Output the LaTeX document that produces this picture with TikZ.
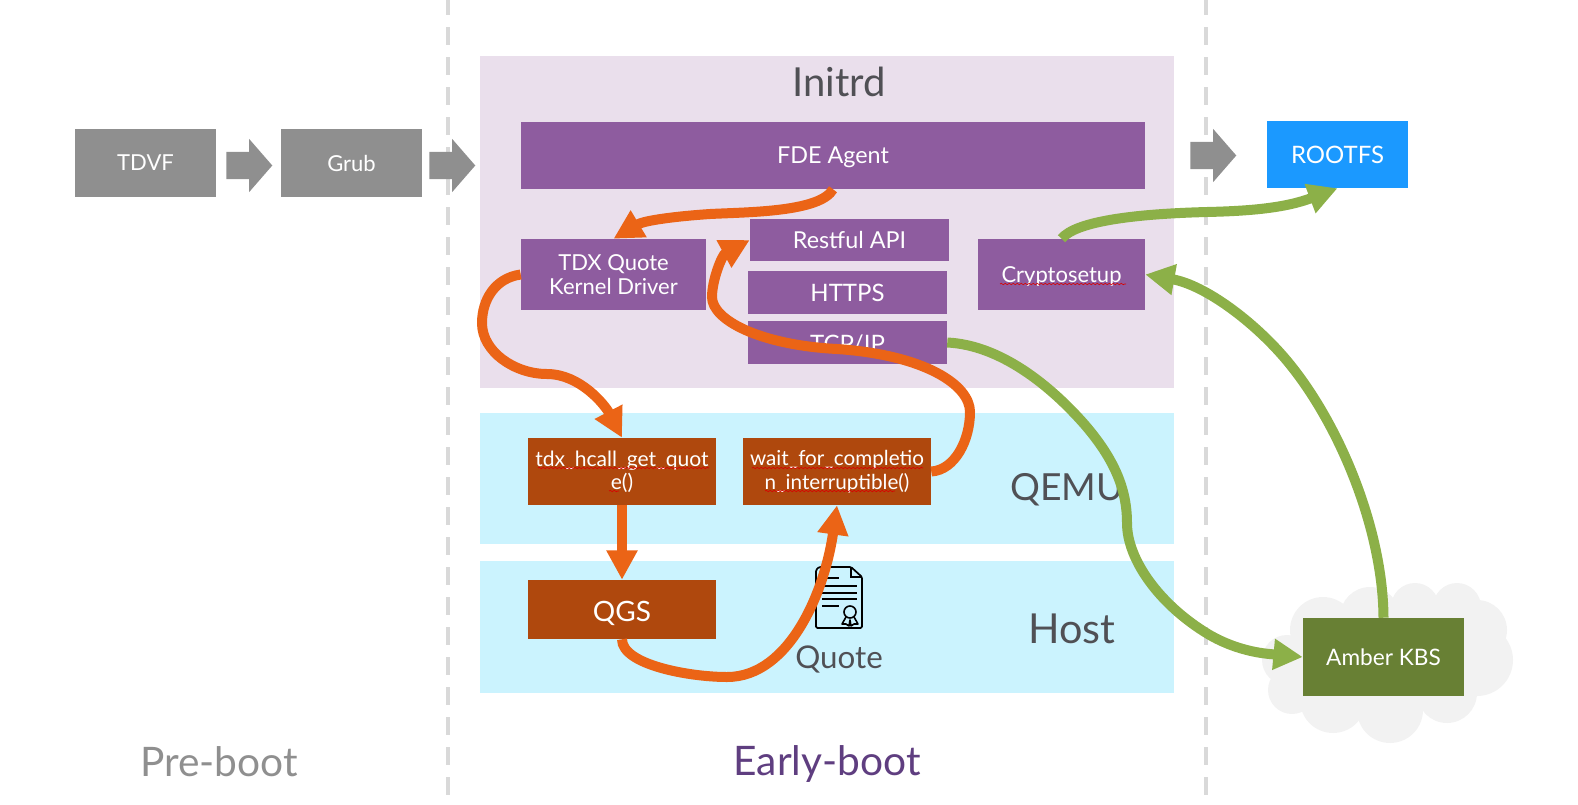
\documentclass[tikz,border=0pt]{standalone}
\usepackage{fontspec}
\setmainfont{Lato}
\usetikzlibrary{arrows.meta,positioning,shapes.arrows,decorations.pathmorphing}
\definecolor{fPurple}{RGB}{234,223,236}
\definecolor{dPurple}{RGB}{142,92,159}
\definecolor{fCyan}{RGB}{203,243,254}
\definecolor{dRust}{RGB}{175,72,13}
\definecolor{dOrange}{RGB}{235,100,22}
\definecolor{dGreen}{RGB}{104,128,52}
\definecolor{lGreen}{RGB}{140,176,72}
\definecolor{dGray}{RGB}{143,143,143}
\definecolor{lGray}{RGB}{217,217,217}
\definecolor{dText}{RGB}{80,80,85}
\definecolor{dEarly}{RGB}{95,62,128}
\definecolor{dSky}{RGB}{27,153,255}
\begin{document}
\begin{tikzpicture}[x=0.75pt,y=-0.75pt,
  zone/.style={anchor=north west,inner sep=0pt},
  boxx/.style={anchor=center,inner sep=0pt,align=center,text=white,font=\fontsize{16.5}{18.5}\selectfont},
  oar/.style={-{Triangle[length=22pt,width=22pt]},line width=7.5pt,dOrange},
  gar/.style={-{Triangle[length=22pt,width=22pt]},line width=7.5pt,lGreen},
  blk/.style={single arrow,anchor=tail,fill=dGray,minimum width=39.75pt,minimum height=34.5pt,single arrow head extend=9.75pt,inner xsep=0pt,inner ysep=10.1pt,single arrow tip angle=98},
  spell/.style={red!85!black,line width=0.5pt,decorate,decoration={snake,amplitude=0.5pt,segment length=3pt}},
  lbl/.style={text=dText,inner sep=0pt}]
\useasboundingbox (0,0) rectangle (1578,804);
% columns
\foreach \x/\n in {448/a,1206/b} {
  \coordinate (t\n) at (\x,0);
  \coordinate (u\n) at (\x,804);
  \draw[lGray,line width=3pt,dash pattern=on 13.2pt off 9.3pt,dash phase=2.25pt] (t\n) -- (u\n);
}
% zones
\node[zone,fill=fPurple,minimum width=520.5pt,minimum height=249pt] (initrd) at (480,56) {};
\node[zone,fill=fCyan,minimum width=520.5pt,minimum height=98.25pt] (qemu) at (480,413) {};
\node[zone,fill=fCyan,minimum width=520.5pt,minimum height=99pt] (host) at (480,561) {};
% cloud
\foreach \x/\y/\r in {1323/630/33,1370/617/30,1415/607/24,1457/607/24,1477/630/30,1477/660/36,1447/693/30,1390/710/33,1333/700/33,1292/690/24,1287/660/25}
  \fill[black!5] (\x,\y) circle (\r);
\fill[black!5] (1300,610) rectangle (1470,710);
% boxes
\node[boxx,fill=dGray,minimum width=105.75pt,minimum height=51pt] (tdvf) at (145.5,163) {TDVF};
\node[boxx,fill=dGray,minimum width=105.75pt,minimum height=51pt] (grub) at (351.5,163) {Grub};
\node[blk] (s1) at (226,165.5) {};
\node[blk] (s2) at (429,165.5) {};
\node[blk] (s3) at (1190,155.5) {};
\node[boxx,fill=dSky,minimum width=105.75pt,minimum height=50.25pt,font=\fontsize{18}{20}\selectfont] (rootfs) at (1337.5,154.5) {ROOTFS};
\node[boxx,fill=dPurple,minimum width=468pt,minimum height=50.25pt,font=\fontsize{17.5}{20}\selectfont,text depth=0pt] (fde) at (833,155.5) {FDE Agent};
\node[boxx,fill=dPurple,minimum width=138.75pt,minimum height=53.25pt] (driver) at (613.5,274.5) {TDX Quote\\Kernel Driver};
\node[boxx,fill=dPurple,minimum width=149.25pt,minimum height=31.5pt,font=\fontsize{17.5}{20}\selectfont] (rest) at (849.5,240) {Restful API};
\node[boxx,fill=dPurple,minimum width=149.25pt,minimum height=32.25pt,font=\fontsize{18}{20}\selectfont] (https) at (847.5,292.5) {HTTPS};
\node[boxx,fill=dPurple,minimum width=149.25pt,minimum height=32.25pt] (tcp) at (847.5,342.5) {};
\node[boxx,font=\fontsize{18}{20}\selectfont] (tcptext) at (847.5,344) {TCP/IP};
\node[boxx,fill=dPurple,minimum width=125.25pt,minimum height=53.25pt,text depth=0pt] (crypto) at (1061.5,274.5) {Cryptosetup};
\node[boxx,fill=dRust,minimum width=141pt,minimum height=50.25pt,font=\fontsize{15.8}{17.5}\selectfont] (hcall) at (622,471.5) {tdx\_hcall\_get\_quot\\e()};
\node[boxx,fill=dRust,minimum width=141pt,minimum height=50.25pt,font=\fontsize{15.5}{17.5}\selectfont] (wait) at (837,471.5) {wait\_for\_completio\\n\_interruptible()};
\node[boxx,fill=dRust,minimum width=141pt,minimum height=44.25pt,font=\fontsize{21}{23}\selectfont,text height=18pt,text depth=0pt] (qgs) at (622,609.5) {QGS};
\node[boxx,fill=dGreen,minimum width=120.75pt,minimum height=58.5pt,font=\fontsize{17}{20}\selectfont] (amber) at (1383.5,657) {Amber KBS};
% squiggles
\draw[spell] (1000,284) -- (1126,284);
\draw[spell] (538,468) -- (709,468);
\draw[spell] (752,468) -- (923,468);
\draw[spell] (609,491) -- (619,491);
\draw[spell] (765,491) -- (895,491);
% captions
\node[lbl,font=\fontsize{30}{32}\selectfont] (lbinit) at (839,82) {Initrd};
\node[lbl,font=\fontsize{28}{30}\selectfont] (lbqemu) at (1067,490) {QEMU};
\node[lbl,font=\fontsize{31}{34}\selectfont] (lbhost) at (1072,629) {Host};
\node[lbl,font=\fontsize{23.5}{26}\selectfont] (lbquote) at (839,659) {Quote};
\node[lbl,text=dGray,font=\fontsize{30.5}{33}\selectfont] (lbpre) at (219,762) {Pre-boot};
\node[lbl,text=dEarly,font=\fontsize{30.5}{33}\selectfont] (lbearly) at (827,764) {Early-boot};
% certificate
\draw[black,line width=1.3pt,rounded corners=1pt,line join=round] (851,567) -- (819,567) -- (816,570) -- (816,628) -- (862,628) -- (862,577) -- cycle;
\draw[black,line width=1.3pt] (851,567) -- (851,577) -- (862,577);
\foreach \y/\e in {578/839,586/857,593/857,599/857,606/839}
  \draw[black,line width=1.3pt] (822,\y) -- (\e,\y);
\draw[black,line width=1.2pt] (850,612) circle (6);
\draw[black,line width=1.2pt,line join=round] (846,617) -- (842,624) -- (846,624) -- (849,626) -- (850,620) -- (851,626) -- (854,624) -- (858,624) -- (854,617);
% connectors
\draw[gar] (tcp.east) .. controls (1000,345) and (1050,385) .. (1085,425) .. controls (1115,460) and (1127,490) .. (1127,523) .. controls (1127,560) and (1160,605) .. (1208,634) .. controls (1240,653) and (1270,654) .. (amber.west);
\draw[gar] (amber.north) .. controls (1383,530) and (1340,425) .. (1288,362) .. controls (1255,322) and (1205,285) .. (crypto.east);
\draw[gar] (crypto.north) .. controls (1075,222) and (1130,214) .. (1207,212) .. controls (1250,211) and (1285,208) .. (rootfs.south);
\draw[oar] (fde.south) .. controls (820,212) and (750,212) .. (710,214) .. controls (680,216) and (645,220) .. (driver.north);
\draw[oar] (driver.west) .. controls (495,278) and (482,300) .. (482,323) .. controls (482,352) and (515,374) .. (547,374) .. controls (580,374) and (605,405) .. (hcall.north);
\draw[oar] (wait.east) .. controls (955,470) and (970,440) .. (970,412) .. controls (970,385) and (925,355) .. (837,349) .. controls (760,345) and (712,320) .. (712,297) .. controls (712,280) and (722,255) .. (rest.west);
\draw[oar] (hcall.south) -- (qgs.north);
\draw[oar] (qgs.south) .. controls (622,665) and (690,677) .. (727,677) .. controls (790,677) and (825,590) .. (wait.south);
\end{tikzpicture}
\end{document}
